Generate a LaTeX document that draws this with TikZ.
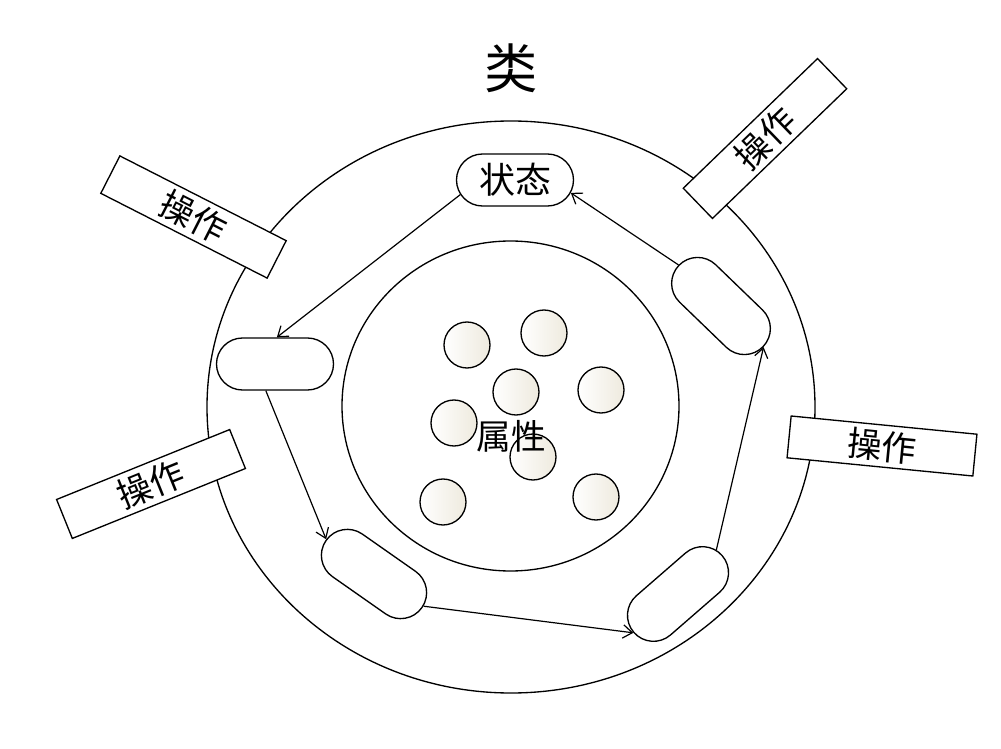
\documentclass[tikz,border=0pt]{standalone}
\usepackage{fontspec}
\newfontfamily\cjk{Noto Sans CJK SC}
\usepackage{tikz}
\usetikzlibrary{shapes,shapes.misc,arrows.meta,positioning,calc}
\usepackage{xcolor}
\definecolor{attrbeige}{RGB}{238,234,222}
\definecolor{linedark}{RGB}{0,0,0}

\tikzset{
  pill/.style={draw=linedark, fill=white, line width=1pt, rounded rectangle, minimum width=87.75pt, minimum height=39pt, inner sep=0pt},
  opbox/.style={draw=linedark, fill=white, line width=1pt, minimum width=140pt, minimum height=31.5pt, inner sep=0pt, font=\cjk\fontsize{26}{30}\selectfont},
  attr/.style={circle, draw=linedark, line width=1pt, minimum size=34.5pt, inner sep=0pt, left color=white, right color=attrbeige},
  flow/.style={-{Straight Barb[length=7pt,width=10pt]}, line width=0.9pt},
}

\begin{document}
\begin{tikzpicture}[x=0.75pt, y=-0.75pt]
\useasboundingbox (0,0) rectangle (1001,749);

% class outline and attribute core
\node[ellipse, draw=linedark, line width=1pt, minimum width=456pt, minimum height=429pt] (cls) at (511,407) {};
\node[ellipse, draw=linedark, line width=1pt, minimum width=252.75pt, minimum height=247.5pt] (core) at (510.5,406) {};
\node[font=\cjk\fontsize{40}{44}\selectfont] (title) at (511,68) {类};

% attributes
\foreach \n/\x/\y in {1/467/345, 2/544/333, 3/516/392, 4/601/390, 5/454/423, 6/533/457, 7/443/502, 8/596/497}
  \node[attr] (a\n) at (\x,\y) {};
\node[font=\cjk\fontsize{26}{30}\selectfont] (attrlabel) at (511,436) {属性};

% states
\node[pill, font=\cjk\fontsize{27}{30}\selectfont] (st) at (515,180) {状态};
\node[pill] (lp) at (275,364) {};
\node[pill, rotate=-35] (llp) at (374,574) {};
\node[pill, rotate=41] (lrp) at (678,594) {};
\node[pill, rotate=-44] (urp) at (721,306) {};

\draw[flow] (st.195) -- (lp.86);
\draw[flow] (lp.251) -- (llp.179);
\draw[flow] (llp.2) -- (lrp.180);
\draw[flow] (lrp.8) -- (urp.0);
\draw[flow] (urp.180) -- (st.-13);

% operations
\node[opbox, rotate=-27] (op1) at (193.5,217) {操作};
\node[opbox, rotate=44] (op2) at (765,138.5) {操作};
\node[opbox, rotate=22] (op3) at (151,484) {操作};
\node[opbox, rotate=-5.6] (op4) at (882,446) {操作};
\end{tikzpicture}
\end{document}
